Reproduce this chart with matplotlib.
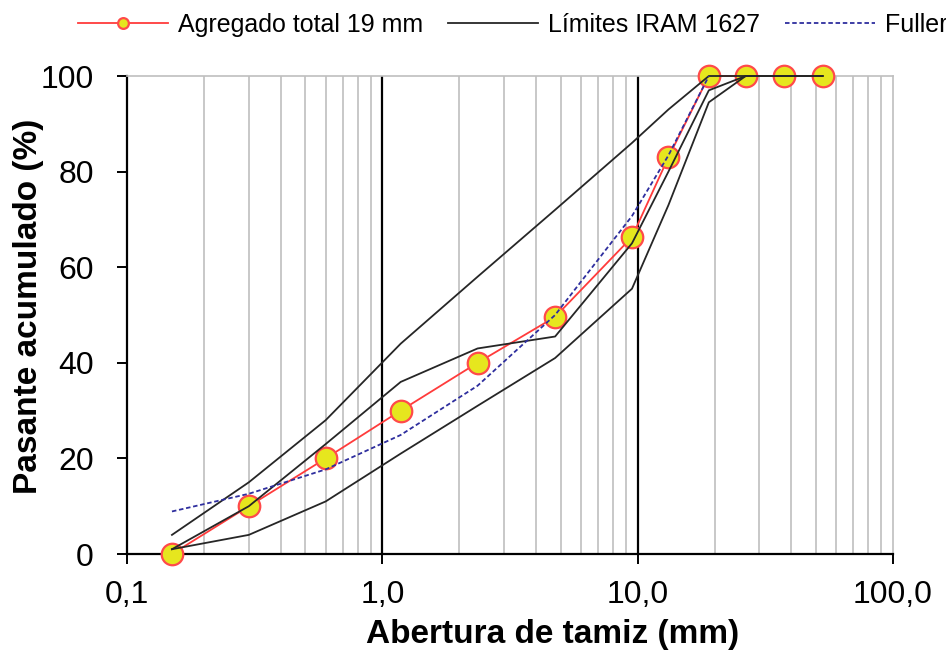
import matplotlib
matplotlib.use("Agg")
import matplotlib.pyplot as plt
from matplotlib.ticker import FixedLocator, NullFormatter

plt.rcParams['font.family'] = ['Liberation Sans', 'DejaVu Sans']

# sieve openings (mm)
tamices = [0.15, 0.3, 0.6, 1.18, 2.36, 4.75, 9.5, 13.2, 19.0, 26.5, 37.5, 53.0]

# measured total aggregate
agregado = [0, 10, 20, 30, 40, 49.6, 66.3, 83, 100, 100, 100, 100]

# IRAM 1627 limit curves
lim_sup = [4, 15, 28, 44, 58, 72, 86, 93, 100, 100, 100, 100]
lim_med = [1, 10, 23, 36, 43, 45.5, 65, 80, 97, 100, 100, 100]
lim_inf = [1, 4, 11, 21, 31, 41, 55.5, 73, 94.5, 100, 100, 100]

# Fuller curve (only up to 19 mm)
tamices_fuller = [0.15, 0.3, 0.6, 1.18, 2.36, 4.75, 9.5, 13.2, 19.0]
fuller = [8.9, 12.6, 17.7, 24.9, 35.2, 50.0, 70.7, 83.4, 100]

x_ticks = [0.1, 1, 10, 100]
x_labels = ["0,1", "1,0", "10,0", "100,0"]
y_ticks = [0, 20, 40, 60, 80, 100]

fig = plt.figure(figsize=(9.46, 6.57), dpi=100)
ax = fig.add_axes([127 / 946, 1 - 554 / 657, 766 / 946, 478 / 657])
ax.set_xscale("log")
ax.set_xlim(0.1, 100)
ax.set_ylim(0, 100)

# vertical grid
minor = [m * 10.0 ** e for e in (-1, 0, 1) for m in range(2, 10)]
for v in minor:
    ax.axvline(v, color="#BFBFBF", lw=1.2, zorder=0)
for v in (1, 10):
    ax.axvline(v, color="black", lw=1.6, zorder=0.5)

(l_agr,) = ax.plot(tamices, agregado, color="#FF3B3B", lw=1.3, marker="o",
                   markersize=15.5, markerfacecolor="#E6E61E",
                   markeredgecolor="#FF4A4A", markeredgewidth=1.6,
                   clip_on=False, zorder=3, label="Agregado total 19 mm")
(l_lim,) = ax.plot(tamices, lim_sup, color="#262626", lw=1.3, zorder=4,
                   clip_on=False, label="Límites IRAM 1627")
ax.plot(tamices, lim_med, color="#262626", lw=1.3, zorder=4, clip_on=False)
ax.plot(tamices, lim_inf, color="#262626", lw=1.3, zorder=4, clip_on=False)
(l_ful,) = ax.plot(tamices_fuller, fuller, color="#2E2E9E", lw=1.3,
                   linestyle=(0, (2.5, 1.5)), zorder=5, label="Fuller")

ax.xaxis.set_major_locator(FixedLocator(x_ticks))
ax.set_xticklabels(x_labels)
ax.xaxis.set_minor_formatter(NullFormatter())
ax.set_yticks(y_ticks)
ax.tick_params(axis="x", which="major", length=7, width=1.4, pad=12,
               labelsize=23, color="black")
ax.tick_params(axis="x", which="minor", length=0)
ax.tick_params(axis="y", length=7, width=1.4, pad=17, labelsize=23)

for s in ("left", "bottom"):
    ax.spines[s].set_color("black")
    ax.spines[s].set_linewidth(1.6)
for s in ("top", "right"):
    ax.spines[s].set_color("#BFBFBF")
    ax.spines[s].set_linewidth(1.2)

ax.set_xlabel("Abertura de tamiz (mm)", fontsize=24, fontweight="bold")
ax.xaxis.set_label_coords(0.555, -0.135)
ax.set_ylabel("Pasante acumulado (%)", fontsize=24, fontweight="bold")
ax.yaxis.set_label_coords(-0.108, 0.517)

fig.legend(handles=[l_agr, l_lim, l_ful], loc="center left",
           bbox_to_anchor=(78 / 946, 1 - 25 / 657), ncol=3, frameon=False,
           fontsize=18, handlelength=3.6, handletextpad=0.4,
           columnspacing=1.0, borderpad=0, borderaxespad=0, markerscale=0.5)

fig.savefig("out.png", dpi=100)
